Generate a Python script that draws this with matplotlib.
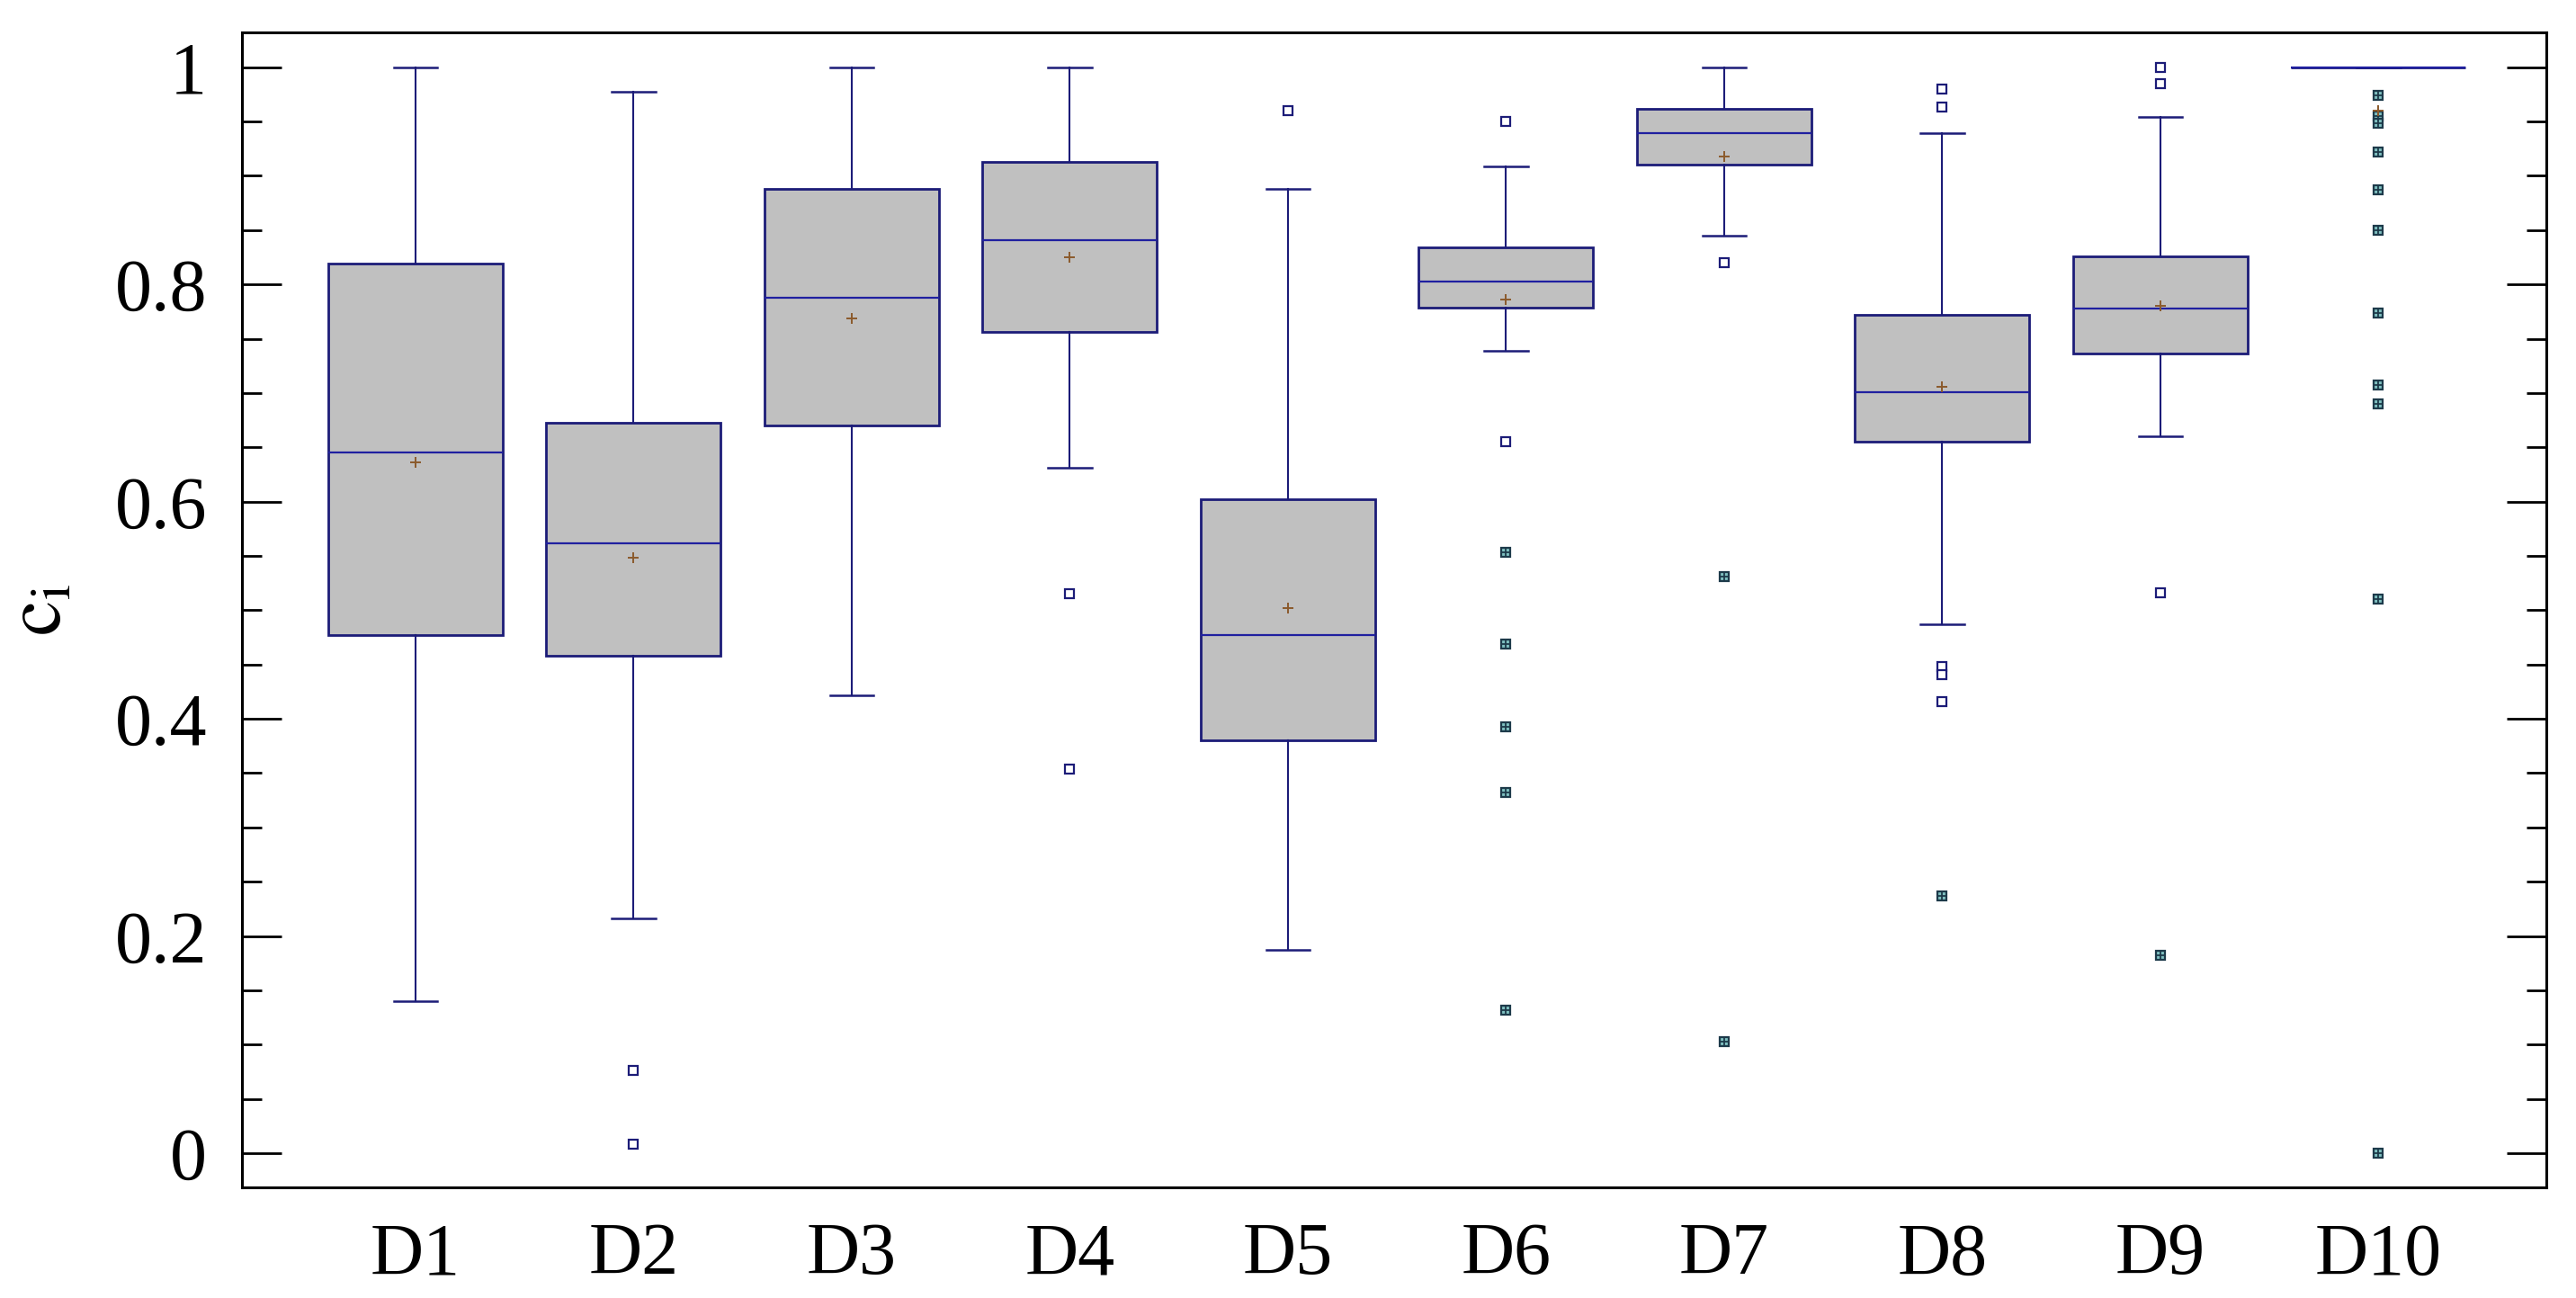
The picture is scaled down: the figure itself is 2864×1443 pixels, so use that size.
import matplotlib
matplotlib.use("Agg")
import matplotlib.pyplot as plt
from matplotlib.ticker import MultipleLocator, FuncFormatter

plt.rcParams['font.family'] = ['Liberation Serif', 'DejaVu Serif']
plt.rcParams['mathtext.fontset'] = 'stix'

labels = ['D1', 'D2', 'D3', 'D4', 'D5', 'D6', 'D7', 'D8', 'D9', 'D10']
whislo = [0.140, 0.216, 0.422, 0.631, 0.187, 0.739, 0.845, 0.487, 0.660, 1.0]
q1     = [0.477, 0.458, 0.670, 0.756, 0.380, 0.779, 0.910, 0.655, 0.736, 1.0]
med    = [0.645, 0.562, 0.788, 0.841, 0.477, 0.803, 0.939, 0.701, 0.778, 1.0]
q3     = [0.819, 0.673, 0.888, 0.913, 0.602, 0.834, 0.962, 0.772, 0.826, 1.0]
whishi = [1.0, 0.977, 1.0, 1.0, 0.888, 0.909, 1.0, 0.939, 0.954, 1.0]
means  = [0.636, 0.548, 0.769, 0.825, 0.502, 0.786, 0.918, 0.706, 0.780, 0.960]

# hollow squares (outside inner fence)
mild = [[], [0.076, 0.008], [], [0.515, 0.354], [0.960],
        [0.950, 0.655], [0.820], [0.980, 0.963, 0.448, 0.441, 0.416],
        [1.0, 0.985, 0.516], []]
# filled squares (outside outer fence)
extreme = [[], [], [], [], [],
           [0.553, 0.469, 0.393, 0.332, 0.132], [0.531, 0.103], [0.237], [0.182],
           [0.974, 0.955, 0.948, 0.922, 0.887, 0.850, 0.774, 0.707, 0.690, 0.510, 0.0]]

navy = '#1c1c78'
stats = []
for i in range(len(labels)):
    stats.append({'label': labels[i], 'whislo': whislo[i], 'q1': q1[i], 'med': med[i],
                  'q3': q3[i], 'whishi': whishi[i], 'mean': means[i], 'fliers': mild[i]})

fig = plt.figure(figsize=(28.64, 14.43), dpi=100)
ax = fig.add_axes([0.0939, 0.0852, 0.8946, 0.8898])

pos = list(range(1, len(labels) + 1))
ax.bxp(stats, positions=pos, widths=0.8, capwidths=0.2, patch_artist=True, showmeans=True,
       boxprops=dict(facecolor='#c0c0c0', edgecolor=navy, linewidth=2.0),
       whiskerprops=dict(color=navy, linewidth=1.5),
       capprops=dict(color=navy, linewidth=1.8),
       medianprops=dict(color='#2020a0', linewidth=1.6),
       meanprops=dict(marker='+', markeredgecolor='#8b5a2b', markersize=9, markeredgewidth=1.4),
       flierprops=dict(marker='s', markerfacecolor='white', markeredgecolor=navy,
                       markersize=7, markeredgewidth=1.6))

for p, vals in zip(pos, extreme):
    if vals:
        ax.plot([p] * len(vals), vals, linestyle='none', marker='s', markersize=7,
                markerfacecolor='#7fc0c0', markeredgecolor='#1d3a4a', markeredgewidth=1.6)
        ax.plot([p] * len(vals), vals, linestyle='none', marker='+', markersize=7,
                markeredgecolor='#1d3a4a', markeredgewidth=1.3)

ax.set_xlim(0.204, 10.77)
ax.set_ylim(-0.0315, 1.032)

ax.yaxis.set_major_locator(MultipleLocator(0.2))
ax.yaxis.set_minor_locator(MultipleLocator(0.05))
ax.yaxis.set_major_formatter(FuncFormatter(lambda v, _: f"{v:g}"))
ax.tick_params(axis='y', which='both', direction='in', left=True, right=True, width=2.0)
ax.tick_params(axis='y', which='major', length=32, labelsize=59, pad=28)
ax.tick_params(axis='y', which='minor', length=16)
ax.tick_params(axis='x', which='both', length=0, labelsize=59, pad=28)

for s in ax.spines.values():
    s.set_linewidth(2.2)

ax.set_ylabel(r'$\mathrm{c}_{\mathrm{i}}$', fontsize=64, labelpad=30)

fig.savefig('out.png', dpi=100)
